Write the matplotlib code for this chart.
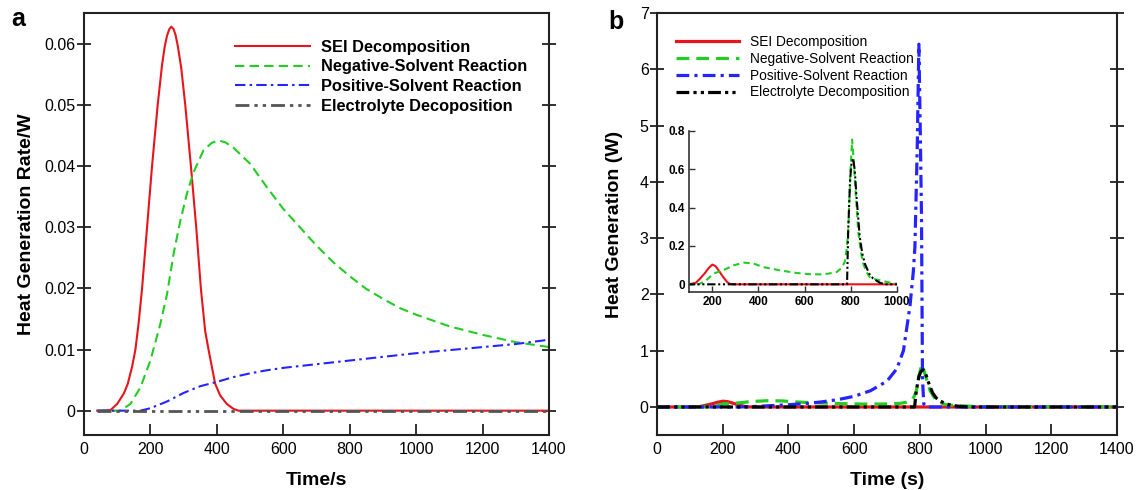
import matplotlib
matplotlib.use("Agg")
import matplotlib.pyplot as plt

plt.rcParams['font.family'] = ['Liberation Sans', 'DejaVu Sans']

# ---- panel a data (time in s, heat generation rate in W) ----
t_sei_a = [40, 60, 80, 100, 120, 132, 145, 155, 165, 175, 190, 205, 222, 235, 243, 250,
           257, 263, 270, 276, 283, 293, 305, 322, 338, 352, 365, 375, 395, 410, 430, 450,
           465, 1400]
sei_a = [0, 0.00002, 0.0001, 0.0011, 0.0028, 0.0044, 0.0072, 0.010, 0.0145, 0.020, 0.030,
         0.040, 0.050, 0.0565, 0.0595, 0.0613, 0.0624, 0.0628, 0.0624, 0.0614, 0.0595,
         0.056, 0.050, 0.040, 0.030, 0.020, 0.013, 0.010, 0.0044, 0.0025, 0.0011, 0.0003,
         0, 0]

t_neg_a = [40, 110, 140, 170, 200, 230, 250, 270, 290, 310, 330, 360, 385, 405, 425, 450,
           500, 550, 600, 650, 700, 750, 800, 850, 900, 950, 1000, 1100, 1200, 1300, 1400]
neg_a = [0, 0, 0.0011, 0.0038, 0.0082, 0.0142, 0.019, 0.0257, 0.031, 0.0355, 0.039,
         0.0426, 0.0438, 0.0442, 0.0439, 0.0430, 0.0404, 0.0366, 0.0330, 0.0300, 0.0270,
         0.0243, 0.0220, 0.0199, 0.0183, 0.0168, 0.0157, 0.0138, 0.0124, 0.0112, 0.0104]

t_pos_a = [40, 170, 200, 250, 300, 350, 400, 450, 500, 550, 600, 700, 800, 900, 1000,
           1100, 1200, 1300, 1400]
pos_a = [0, 0, 0.0004, 0.0015, 0.0029, 0.0040, 0.0047, 0.0055, 0.0061, 0.0066, 0.0070,
         0.0076, 0.0082, 0.0088, 0.0094, 0.0099, 0.0104, 0.0109, 0.0116]

t_ele_a = [40, 1400]
ele_a = [0, 0]

# ---- panel b data (time in s, heat generation in W) ----
t_sei_b = [0, 100, 130, 148, 170, 185, 201, 215, 230, 248, 265, 277, 300, 1400]
sei_b = [0, 0, 0.008, 0.03, 0.06, 0.085, 0.103, 0.095, 0.07, 0.038, 0.012, 0.002, 0, 0]

t_neg_b = [0, 140, 170, 205, 248, 292, 340, 380, 421, 493, 566, 620, 666, 700, 739, 760,
           774, 782, 789, 799, 806, 812, 818, 832, 845, 854, 868, 882, 900, 926, 950, 974,
           1000, 1400]
neg_b = [0, 0, 0.015, 0.056, 0.073, 0.099, 0.113, 0.108, 0.09, 0.073, 0.059, 0.053,
         0.052, 0.055, 0.064, 0.085, 0.117, 0.18, 0.28, 0.595, 0.755, 0.66, 0.54, 0.28,
         0.16, 0.108, 0.065, 0.038, 0.028, 0.021, 0.014, 0.008, 0.003, 0]

t_pos_b = [0, 250, 300, 400, 450, 500, 550, 600, 650, 700, 730, 750, 770, 780, 785, 792,
           797, 801, 805, 808, 812, 820, 1400]
pos_b = [0, 0, 0.01, 0.04, 0.06, 0.09, 0.13, 0.19, 0.29, 0.46, 0.68, 1.0, 1.8, 2.4, 2.85,
         4.6, 6.45, 5.0, 3.4, 0.5, 0.05, 0, 0]

t_ele_b = [0, 784, 789, 797, 803, 810, 817, 825, 839, 850, 861, 880, 897, 926, 950, 1400]
ele_b = [0, 0, 0.28, 0.54, 0.63, 0.656, 0.6, 0.456, 0.247, 0.16, 0.108, 0.055, 0.03,
         0.008, 0, 0]

labels_a = ['SEI Decomposition', 'Negative-Solvent Reaction',
            'Positive-Solvent Reaction', 'Electrolyte Decoposition']
labels_b = ['SEI Decomposition', 'Negative-Solvent Reaction',
            'Positive-Solvent Reaction', 'Electrolyte Decomposition']

RED = '#e8141c'
GREEN = '#22cc22'
BLUE = '#2424ff'
GRAY = '#555555'
DASH = (0, (4.5, 2.5))
DASHDOT = (0, (5, 2, 1.2, 2))
DASHDOTDOT = (0, (5, 1.8, 1.2, 1.8, 1.2, 1.8))

fig = plt.figure(figsize=(11.39, 4.9), dpi=100)
ax1 = fig.add_axes([0.0737, 0.112, 0.4083, 0.861])
ax2 = fig.add_axes([0.5768, 0.112, 0.4039, 0.861])


def style_axes(ax):
    for s in ax.spines.values():
        s.set_linewidth(1.5)
        s.set_color('#222222')
    ax.tick_params(axis='y', which='both', direction='inout', length=10, width=1.3,
                   right=True, labelsize=11.5, pad=1, color='#222222')
    ax.tick_params(axis='x', direction='in', length=8, width=1.3, labelsize=11.5,
                   pad=5, color='#222222')
    ax.set_xlim(0, 1400)
    ax.set_xticks(range(0, 1401, 200))


# panel a
lw = 1.5
ax1.plot(t_sei_a, sei_a, color=RED, lw=lw, label=labels_a[0])
ax1.plot(t_neg_a, neg_a, color=GREEN, lw=lw, linestyle=DASH, label=labels_a[1])
ax1.plot(t_pos_a, pos_a, color=BLUE, lw=lw, linestyle=DASHDOT, label=labels_a[2])
ax1.plot(t_ele_a, ele_a, color=GRAY, lw=2, linestyle=DASHDOTDOT, label=labels_a[3])
style_axes(ax1)
ax1.set_ylim(-0.004, 0.065)
ax1.set_yticks([0, 0.01, 0.02, 0.03, 0.04, 0.05, 0.06])
ax1.set_yticklabels(['0', '0.01', '0.02', '0.03', '0.04', '0.05', '0.06'])
ax1.set_xlabel('Time/s', fontsize=14, fontweight='bold', labelpad=11)
ax1.set_ylabel('Heat Generation Rate/W', fontsize=14, fontweight='bold', labelpad=7)
ax1.legend(loc='upper left', bbox_to_anchor=(0.324, 0.937), frameon=False,
           prop={'weight': 'bold', 'size': 11.8}, handlelength=4.6, handletextpad=0.7,
           labelspacing=0.28, borderpad=0, borderaxespad=0)
fig.text(0.016, 0.962, 'a', fontsize=18, fontweight='bold', ha='center', va='center')

# panel b
lw = 2.3
ax2.plot(t_sei_b, sei_b, color=RED, lw=lw, label=labels_b[0])
ax2.plot(t_neg_b, neg_b, color=GREEN, lw=lw, linestyle=(0, (4, 2.2)), label=labels_b[1])
ax2.plot(t_pos_b, pos_b, color=BLUE, lw=lw, linestyle=(0, (4, 1.6, 1, 1.6)), label=labels_b[2])
ax2.plot(t_ele_b, ele_b, color='black', lw=lw, linestyle=(0, (4, 1.3, 1, 1.3, 1, 1.3)),
         label=labels_b[3])
style_axes(ax2)
ax2.set_ylim(-0.5, 7)
ax2.set_yticks(range(0, 8))
ax2.set_xlabel('Time (s)', fontsize=14, fontweight='bold', labelpad=11)
ax2.set_ylabel('Heat Generation (W)', fontsize=14, fontweight='bold', labelpad=12)
ax2.legend(loc='upper left', bbox_to_anchor=(0.0415, 0.948), frameon=False,
           prop={'size': 9.9}, handlelength=4.6, handletextpad=0.75,
           labelspacing=0.2, borderpad=0, borderaxespad=0)
fig.text(0.5405, 0.955, 'b', fontsize=18, fontweight='bold', ha='center', va='center')

# inset of panel b
axi = fig.add_axes([0.6049, 0.4041, 0.1826, 0.3286])
axi.plot(t_sei_b, sei_b, color=RED, lw=1.5)
axi.plot(t_neg_b, neg_b, color=GREEN, lw=1.5, linestyle=(0, (3, 2)))
axi.plot(t_ele_b, ele_b, color='black', lw=1.5, linestyle=(0, (4, 1.3, 1, 1.3, 1, 1.3)))
axi.set_xlim(100, 1000)
axi.set_ylim(-0.04, 0.8)
axi.set_xticks([200, 400, 600, 800, 1000])
axi.set_yticks([0, 0.2, 0.4, 0.6, 0.8])
axi.set_yticklabels(['0', '0.2', '0.4', '0.6', '0.8'])
axi.spines['top'].set_visible(False)
axi.spines['right'].set_visible(False)
for s in ['left', 'bottom']:
    axi.spines[s].set_linewidth(1.2)
    axi.spines[s].set_color('#333333')
axi.tick_params(direction='in', length=4, width=1, labelsize=8.5, pad=3, color='#333333')
for lab in axi.get_xticklabels() + axi.get_yticklabels():
    lab.set_fontweight('bold')
axi.patch.set_alpha(0)

fig.savefig('out.png', dpi=100)
